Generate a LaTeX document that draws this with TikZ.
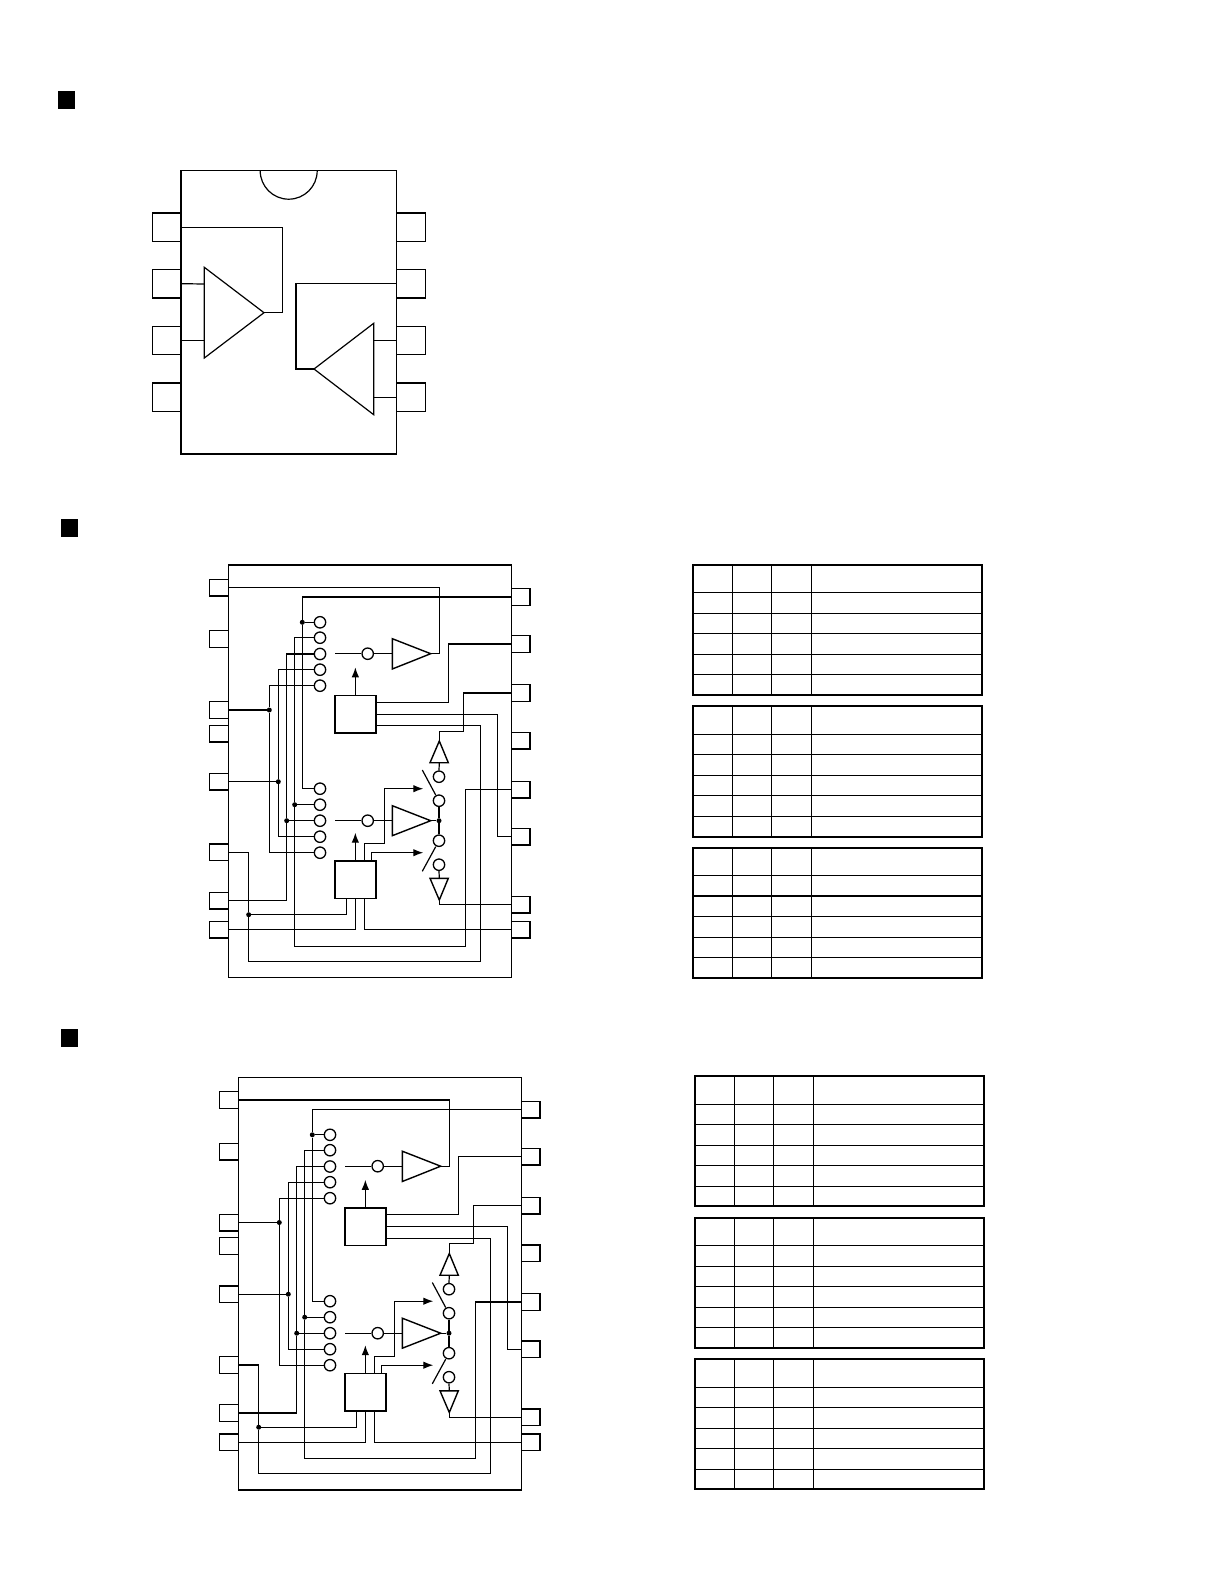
\documentclass[tikz,border=0pt]{standalone}
\usepackage{xcolor}
\usetikzlibrary{arrows.meta}

\tikzset{
    wire/.style = {line width = 1.2pt},
    sigarrow/.style = {wire, -{Latex[length = 10pt, width = 7.5pt]}},
    marksq/.style = {fill = black, inner sep = 0pt, minimum width = 17.5pt, minimum height = 18pt},
    icbody/.style = {draw, line width = 1.6pt, inner sep = 0pt},
    pinlg/.style = {draw, line width = 1.2pt, inner sep = 0pt, minimum width = 28.4pt, minimum height = 28.4pt},
    pinsm/.style = {draw, line width = 1.4pt, inner sep = 0pt, minimum width = 18.6pt, minimum height = 16.6pt},
    tapc/.style = {draw, circle, line width = 1.3pt, fill = white, inner sep = 0pt, minimum size = 11.4pt},
    jdot/.style = {circle, fill = black, inner sep = 0pt, minimum size = 5pt},
    ctlbox/.style = {draw, line width = 1.6pt, inner sep = 0pt, minimum width = 41.3pt, minimum height = 37.6pt}
}

% one table: left, top, bottom, inner rows
\newcommand{\sigtable}[4]{
    \draw[line width = 2.2pt] (#1, #2) rectangle (#1 + 289.6, #3);
    \foreach \c in {39.6, 78.6, 118.6}
        \draw[wire] (#1 + \c, #2) -- (#1 + \c, #3);
    \foreach \r in {#4}
        \draw[wire] (#1, \r) -- (#1 + 289.6, \r);
}

% switching block of the two lower packages
\newcommand{\swblock}{
    \node[icbody, minimum width = 283pt, minimum height = 412.3pt] (body) at (369.8, 771.15) {};

    \foreach \i/\y in {1/587.5, 2/639, 3/710, 4/733.5, 5/781.7, 6/852.4, 7/900.5, 8/929.8}
        \node[pinsm] (lp\i) at (219, \y) {};
    \foreach \i/\y in {1/597, 2/644, 3/693, 4/740.6, 5/789.5, 6/836.6, 7/904.6, 8/929.8}
        \node[pinsm] (rp\i) at (520.5, \y) {};

    \foreach \i/\y in {1/622.3, 2/637.7, 3/654, 4/669.7, 5/685.7}
        \node[tapc] (up\i) at (320, \y) {};
    \foreach \i/\y in {1/788.7, 2/804.7, 3/820.7, 4/836.7, 5/852.7}
        \node[tapc] (lo\i) at (320, \y) {};
    \node[tapc] (ina) at (367.7, 653.7) {};
    \node[tapc] (inb) at (367.7, 820.7) {};
    \node[tapc] (sw1) at (439, 776.7) {};
    \node[tapc] (sw2) at (439, 800.7) {};
    \node[tapc] (sw3) at (439, 840.7) {};
    \node[tapc] (sw4) at (439, 864.7) {};

    \node[jdot] (jd1) at (302.3, 622.3) {};
    \node[jdot] (jd2) at (294.7, 804.7) {};
    \node[jdot] (jd3) at (286.7, 820.7) {};
    \node[jdot] (jd4) at (278.3, 781.7) {};
    \node[jdot] (jd5) at (269.3, 710) {};
    \node[jdot] (jd6) at (248.7, 914.7) {};
    \node[jdot] (jd7) at (439, 820.7) {};

    \node[ctlbox] (ctla) at (355.35, 714.3) {};
    \node[ctlbox] (ctlb) at (355.35, 879.7) {};

    \coordinate (ampaout) at (439.3, 653.7);
    \coordinate (ampatip) at (430.7, 653.7);
    \coordinate (ampbtip) at (430.7, 820.7);
    \coordinate (inaleft) at (335, 653.7);
    \coordinate (inbleft) at (335, 820.7);
    \coordinate (ampain) at (392.3, 653.7);
    \coordinate (ampbin) at (392.3, 820.7);
    \coordinate (ca1) at (376, 702.3);
    \coordinate (ca3) at (376, 725.7);
    \coordinate (cb1) at (346.7, 898.5);
    \coordinate (cb3) at (364.7, 898.5);
    \coordinate (ct1) at (364.7, 860.9);
    \coordinate (ct2) at (371.3, 860.9);
    \coordinate (cra) at (448.7, 670);
    \coordinate (crb) at (480.7, 961.3);
    \coordinate (crc) at (497.3, 780);
    \coordinate (crd) at (463.3, 731.3);
    \coordinate (cre) at (384.3, 843.7);
    \coordinate (crf) at (465.3, 946.3);
    \coordinate (tip1) at (423.3, 788.7);
    \coordinate (tip2) at (423.3, 852.7);
    \coordinate (armatip) at (355.35, 667.3);
    \coordinate (armbtip) at (355.35, 832.7);
    \coordinate (upapex) at (439.3, 741);
    \coordinate (upbase) at (439.3, 762.7);
    \coordinate (dnbase) at (439.3, 878.3);
    \coordinate (dnapex) at (439.3, 900);

    \draw[wire] (lp1.east) -| (ampaout) -- (ampatip);
    \draw[wire] (rp1.west) -| (jd1) |- (lo1.west);
    \draw[wire] (jd1) -- (up1.west);
    \draw[wire] (up2.west) -| (jd2) |- (crf) |- (rp5.west);
    \draw[wire] (jd2) -- (lo2.west);
    \draw[wire] (up3.west) -| (jd3) |- (lp7.east);
    \draw[wire] (jd3) -- (lo3.west);
    \draw[wire] (up4.west) -| (jd4) |- (lo4.west);
    \draw[wire] (lp5.east) -- (jd4);
    \draw[wire] (up5.west) -| (jd5) |- (lo5.west);
    \draw[wire] (lp3.east) -- (jd5);
    \draw[wire] (lp6.east) -| (jd6) |- (crb) |- (ca3);
    \draw[wire] (jd6) -| (cb1);
    \draw[wire] (lp8.east) -| (ctlb.south);
    \draw[wire] (cb3) |- (rp8.west);
    \draw[wire] (ca1) -| (cra) |- (rp2.west);
    \draw[wire] (ctla.east) -| (crc) |- (rp6.west);
    \draw[wire] (rp3.west) -| (crd) -| (upapex);

    \draw[wire] (inaleft) -- (ina.west);
    \draw[wire] (ina.east) -- (ampain);
    \draw[wire] (inbleft) -- (inb.west);
    \draw[wire] (inb.east) -- (ampbin);

    \draw[line width = 1.4pt] (392.3, 638.7) -- (392.3, 669) -- (ampatip) -- cycle;
    \draw[line width = 1.4pt] (392.3, 805.7) -- (392.3, 835.7) -- (ampbtip) -- cycle;
    \draw[line width = 1.4pt] (upapex) -- (430, 762.7) -- (448.3, 762.7) -- cycle;
    \draw[line width = 1.4pt] (dnapex) -- (430, 878.3) -- (448.3, 878.3) -- cycle;

    \draw[wire] (upbase) -- (sw1.north);
    \draw[wire] (sw2.south) -- (jd7);
    \draw[wire] (ampbtip) -- (jd7);
    \draw[wire] (jd7) -- (sw3.north);
    \draw[wire] (sw4.south) -- (dnbase);
    \draw[wire] (dnapex) |- (rp7.west);
    \draw[wire] (422.3, 770) -- (435.7, 795);
    \draw[wire] (435.7, 846.7) -- (422.3, 871.3);

    \draw[sigarrow] (ctla.north) -- (armatip);
    \draw[sigarrow] (ctlb.north) -- (armbtip);
    \draw[sigarrow] (ct1) |- (cre) |- (tip1);
    \draw[sigarrow] (ct2) |- (tip2);
}

\begin{document}
\begin{tikzpicture}[x = 1pt, y = -1pt]
    \useasboundingbox (0, 0) rectangle (1224, 1584);

    \node[marksq] (marka) at (66.7, 100) {};
    \node[marksq] (markb) at (69.4, 528) {};
    \node[marksq] (markc) at (69.4, 1038) {};

    % package outline
    \node[draw, wire, inner sep = 0pt, minimum width = 215.7pt, minimum height = 283.3pt] (pkg) at (288.85, 312.35) {};
    \draw[wire] (260.2, 170.7) arc[start angle = 180, end angle = 360, radius = 28.5pt];

    \foreach \i/\y in {1/227.2, 2/283.7, 3/340.5, 4/397.2}
        \node[pinlg] (lpin\i) at (167, \y) {};
    \foreach \i/\y in {1/227.2, 2/283.7, 3/340.5, 4/397.2}
        \node[pinlg] (rpin\i) at (411, \y) {};

    \coordinate (ampltip) at (264, 312.7);
    \coordinate (amprtip) at (314, 369);
    \coordinate (ampltop) at (204.3, 284);
    \coordinate (amplbot) at (204.3, 340.5);
    \coordinate (amprtop) at (373.7, 340.5);
    \coordinate (amprbot) at (373.7, 397.2);
    \coordinate (fbl) at (282.3, 270);
    \coordinate (fbr) at (296, 320);

    \draw[wire] (204.3, 267.3) -- (204.3, 358) -- (ampltip) -- cycle;
    \draw[wire] (373.7, 323.3) -- (373.7, 414.7) -- (amprtip) -- cycle;

    \draw[wire] (lpin1.east) -| (fbl) |- (ampltip);
    \draw[wire] (lpin2.east) -- (ampltop);
    \draw[wire] (lpin3.east) -- (amplbot);
    \draw[wire] (rpin2.west) -| (fbr) |- (amprtip);
    \draw[wire] (rpin3.west) -- (amprtop);
    \draw[wire] (rpin4.west) -- (amprbot);

    \begin{scope}[name prefix = b-]
        \swblock
    \end{scope}
    \begin{scope}[name prefix = c-, shift = {(10, 512.5)}]
        \swblock
    \end{scope}

    \sigtable{692.7}{565}{695.3}{592.3, 613.3, 633.3, 654.3, 674.3}
    \sigtable{692.7}{705.7}{836.7}{734.3, 754.3, 775.3, 795.3, 816.3}
    \sigtable{692.7}{848}{977.7}{875.3, 896, 916.3, 937.3, 957.3}

    \sigtable{694.6}{1076}{1206}{1104.3, 1124.3, 1145.3, 1165.3, 1186.3}
    \sigtable{694.6}{1218}{1348}{1245.3, 1266.3, 1286.3, 1307.3, 1327.3}
    \sigtable{694.6}{1359}{1488.7}{1387.3, 1407.3, 1428.3, 1448.3, 1469.3}
\end{tikzpicture}
\end{document}
